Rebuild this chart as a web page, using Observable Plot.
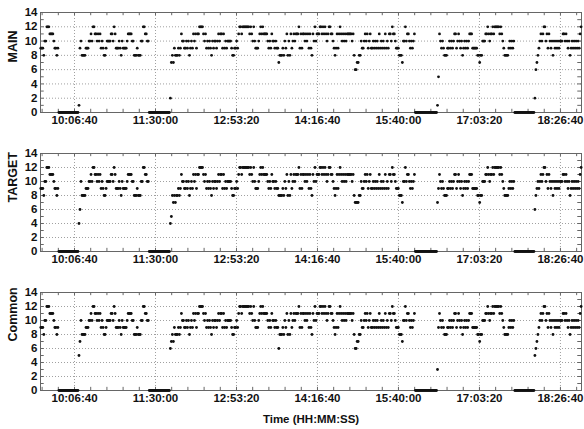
<!DOCTYPE html>
<html>
<head>
<meta charset="utf-8">
<script src="https://cdn.jsdelivr.net/npm/d3@7"></script>
<script src="https://cdn.jsdelivr.net/npm/@observablehq/plot@0.6"></script>
<style>
  html, body { margin: 0; padding: 0; background: #fff; }
  #chart svg { display: block; }
</style>
</head>
<body>
<div id="chart"></div>
<script>
// Sample clock: seconds since midnight of the first reading and the spacing between readings
const startSeconds = 34320;
const stepSeconds = 62;

// Readings of the MAIN channel
const mainValues = [
  9,9,9,8,10,10,12,12,12,11,
  11,11,11,10,9,9,8,9,
  0,0,0,0,0,0,0,0,0,0,0,0,0,0,0,0,0,0,0,0,
  1,9,10,8,8,8,8,9,9,9,10,10,
  11,10,12,12,11,11,10,11,10,11,
  9,10,9,8,8,9,10,10,10,10,
  11,11,10,12,11,9,9,9,10,9,
  8,10,9,9,9,9,10,11,11,11,
  11,10,10,8,8,8,9,8,8,8,
  10,10,12,12,11,11,10,10,
  0,0,0,0,0,0,0,0,0,0,0,0,0,0,0,0,0,0,0,0,0,
  2,7,8,7,9,8,8,8,9,8,9,
  11,10,10,9,9,10,9,10,8,9,
  10,9,11,10,11,9,11,11,12,12,
  12,12,11,10,11,9,10,9,10,9,
  8,10,9,10,10,9,10,11,10,11,
  11,9,11,9,10,9,10,10,10,10,
  9,8,8,9,9,10,9,11,12,12,
  11,12,12,12,12,12,12,12,11,12,
  11,10,12,10,9,9,9,10,11,12,
  11,12,11,11,11,11,10,9,10,9,
  11,10,10,9,10,9,9,7,8,8,
  8,9,8,10,9,11,8,10,8,11,
  9,10,11,10,11,11,11,12,9,11,
  9,11,11,10,11,10,11,9,11,9,
  8,11,10,12,10,11,11,11,12,12,
  11,12,11,12,11,10,11,12,12,11,
  11,10,9,8,9,11,9,11,12,11,
  10,11,10,11,10,11,11,11,11,11,
  10,11,8,6,6,7,7,8,8,10,
  9,9,10,11,10,11,9,10,11,9,
  9,10,9,10,9,10,9,11,9,10,
  9,10,9,11,9,10,9,11,11,10,
  12,11,11,10,9,9,9,8,8,8,
  7,10,10,12,10,11,11,10,9,10,9,10,11,
  0,0,0,0,0,0,0,0,0,0,0,0,0,0,0,0,0,0,0,0,0,0,
  1,5,11,10,9,10,9,8,8,8,9,9,10,9,10,
  9,10,11,11,9,10,11,10,9,10,
  8,9,10,9,10,9,10,11,11,11,
  9,9,9,9,9,8,8,7,8,8,
  10,10,10,11,11,12,11,10,11,11,
  12,11,12,12,12,12,12,11,12,11,
  10,9,8,8,8,8,9,10,9,10,9,10,
  0,0,0,0,0,0,0,0,0,0,0,0,0,0,0,0,0,0,0,0,
  2,6,7,8,9,10,11,10,
  11,12,12,10,11,9,11,10,9,10,
  8,10,9,10,9,10,9,10,10,10,
  11,11,10,11,10,9,10,8,9,10,
  9,10,9,10,9,10,9,11,12
];

// Readings of the TARGET channel
const targetValues = [
  9,9,9,8,10,10,12,12,12,11,
  11,11,11,10,9,9,8,9,
  0,0,0,0,0,0,0,0,0,0,0,0,0,0,0,0,0,0,0,0,
  4,6,10,8,8,8,8,9,9,9,10,10,
  11,10,12,12,11,11,10,11,10,11,
  9,10,9,8,8,9,10,10,10,10,
  11,11,10,12,11,9,9,9,10,9,
  8,10,9,9,9,9,10,11,11,11,
  11,10,10,8,8,8,9,8,8,8,
  10,10,12,12,11,11,10,10,
  0,0,0,0,0,0,0,0,0,0,0,0,0,0,0,0,0,0,0,0,0,
  4,5,8,7,8,7,8,8,9,8,9,
  11,10,10,9,9,10,9,10,8,9,
  10,9,11,10,11,9,11,11,12,12,
  12,12,11,10,11,9,10,9,10,9,
  8,10,9,10,10,9,10,11,10,11,
  11,9,11,9,10,9,10,10,10,10,
  9,8,8,9,9,10,9,11,12,12,
  11,12,12,12,12,12,12,12,11,12,
  11,10,12,10,9,9,9,10,11,12,
  11,12,11,11,11,11,10,9,10,9,
  11,10,10,9,10,9,9,8,8,8,
  8,9,8,10,9,11,8,10,8,11,
  9,10,11,10,11,11,11,12,9,11,
  9,11,11,10,11,10,11,9,11,9,
  8,11,10,12,10,11,11,11,12,12,
  11,12,11,12,11,10,11,12,12,11,
  11,10,9,8,9,11,9,11,12,11,
  10,11,10,11,10,11,11,11,11,11,
  10,11,8,7,7,7,7,8,8,10,
  9,9,10,11,10,11,9,10,11,9,
  9,10,9,10,9,10,9,11,9,10,
  9,10,9,11,9,10,9,11,11,10,
  12,11,11,10,9,9,9,8,8,8,
  7,10,10,12,10,11,11,10,9,10,9,10,11,
  0,0,0,0,0,0,0,0,0,0,0,0,0,0,0,0,0,0,0,0,0,0,
  7,9,11,10,9,10,9,8,8,8,9,9,10,9,10,
  9,10,11,11,9,10,11,10,9,10,
  8,9,10,9,10,9,10,11,11,11,
  9,9,9,9,9,8,8,7,8,8,
  10,10,10,11,11,12,11,10,11,11,
  12,11,12,12,12,12,12,11,12,11,
  10,9,8,8,8,8,9,10,9,10,9,10,
  0,0,0,0,0,0,0,0,0,0,0,0,0,0,0,0,0,0,0,0,
  6,8,9,10,9,10,11,10,
  11,12,12,10,11,9,11,10,9,10,
  8,10,9,10,9,10,9,10,10,10,
  11,11,10,11,10,9,10,8,9,10,
  9,10,9,10,9,10,9,11,12
];

// Readings accepted in common by both channels
const commonValues = [
  9,9,9,8,10,10,12,12,12,11,
  11,11,11,10,9,9,8,9,
  0,0,0,0,0,0,0,0,0,0,0,0,0,0,0,0,0,0,0,0,
  5,7,10,8,8,8,8,9,9,9,10,10,
  11,10,12,12,11,11,10,11,10,11,
  9,10,9,8,8,9,10,10,10,10,
  11,11,10,12,11,9,9,9,10,9,
  8,10,9,9,9,9,10,11,11,11,
  11,10,10,8,8,8,9,8,8,8,
  10,10,12,12,11,11,10,10,
  0,0,0,0,0,0,0,0,0,0,0,0,0,0,0,0,0,0,0,0,0,
  6,7,8,7,9,8,8,8,9,8,9,
  11,10,10,9,9,10,9,10,8,9,
  10,9,11,10,11,9,11,11,12,12,
  12,12,11,10,11,9,10,9,10,9,
  8,10,9,10,10,9,10,11,10,11,
  11,9,11,9,10,9,10,10,10,10,
  9,8,8,9,9,10,9,11,12,12,
  11,12,12,12,12,12,12,12,11,12,
  11,10,12,10,9,9,9,10,11,12,
  11,12,11,11,11,11,10,9,10,9,
  11,10,10,9,10,9,9,6,8,8,
  8,9,8,10,9,11,8,10,8,11,
  9,10,11,10,11,11,11,12,9,11,
  9,11,11,10,11,10,11,9,11,9,
  8,11,10,12,10,11,11,11,12,12,
  11,12,11,12,11,10,11,12,12,11,
  11,10,9,8,9,11,9,11,12,11,
  10,11,10,11,10,11,11,11,11,11,
  10,11,8,6,6,7,7,8,8,10,
  9,9,10,11,10,11,9,10,11,9,
  9,10,9,10,9,10,9,11,9,10,
  9,10,9,11,9,10,9,11,11,10,
  12,11,11,10,9,9,9,8,8,8,
  7,10,10,12,10,11,11,10,9,10,9,10,11,
  0,0,0,0,0,0,0,0,0,0,0,0,0,0,0,0,0,0,0,0,0,0,
  3,9,11,10,9,10,9,8,8,8,9,9,10,9,10,
  9,10,11,11,9,10,11,10,9,10,
  8,9,10,9,10,9,10,11,11,11,
  9,9,9,9,9,8,8,7,8,8,
  10,10,10,11,11,12,11,10,11,11,
  12,11,12,12,12,12,12,11,12,11,
  10,9,8,8,8,8,9,10,9,10,9,10,
  0,0,0,0,0,0,0,0,0,0,0,0,0,0,0,0,0,0,0,0,
  5,6,7,8,9,10,11,10,
  11,12,12,10,11,9,11,10,9,10,
  8,10,9,10,9,10,9,10,10,10,
  11,11,10,11,10,9,10,8,9,10,
  9,10,9,10,9,10,9,11,12
];

// Axis layout values (seconds since midnight / count levels)
const timeDomain = [34300, 67700];
const timeTicks = [36400, 41400, 46400, 51400, 56400, 61400, 66400];
const timeMinorTicks = d3.range(34400, 67700, 1000);
const countDomain = [0, 14];
const countTicks = [0, 2, 4, 6, 8, 10, 12, 14];
const countGrid = [2, 4, 6, 8, 10, 12];
const countMinorTicks = d3.range(0, 15, 1);

const panelLabels = ["MAIN", "TARGET", "Common"];
const panelSeries = [mainValues, targetValues, commonValues];

const hms = (s) => {
  const h = Math.floor(s / 3600), m = Math.floor((s % 3600) / 60), sec = Math.round(s % 60);
  return [h, m, sec].map((v) => String(v).padStart(2, "0")).join(":");
};

const gridStyle = { stroke: "#a0a0a0", strokeDasharray: "1,2", strokeWidth: 1 };
const inkColor = "#111";
const frameColor = "#666";

const layouts = [
  { height: 139, marginTop: 12, marginBottom: 27 },
  { height: 139, marginTop: 14, marginBottom: 27 },
  { height: 151, marginTop: 14, marginBottom: 39 }
];

const chart = document.getElementById("chart");

panelSeries.forEach((values, k) => {
  const data = values.map((v, i) => ({ t: startSeconds + i * stepSeconds, v }));
  const layout = layouts[k];
  const tickLenX = 0.45;   // in count units
  const tickLenY = 230;    // in seconds
  const marks = [
    Plot.ruleY(countGrid, gridStyle),
    Plot.ruleX(timeTicks, gridStyle),
    Plot.ruleX(timeMinorTicks, { y1: countDomain[0], y2: countDomain[0] + tickLenX, stroke: frameColor }),
    Plot.ruleX(timeMinorTicks, { y1: countDomain[1], y2: countDomain[1] - tickLenX, stroke: frameColor }),
    Plot.ruleY(countMinorTicks, { x1: timeDomain[0], x2: timeDomain[0] + tickLenY, stroke: frameColor }),
    Plot.ruleY(countMinorTicks, { x1: timeDomain[1], x2: timeDomain[1] - tickLenY, stroke: frameColor }),
    Plot.frame({ stroke: frameColor }),
    Plot.axisX({ ticks: timeTicks, tickFormat: hms, tickSize: 0, tickPadding: 3, label: null, fontSize: 11.5 }),
    Plot.axisY({ ticks: countTicks, tickSize: 0, tickPadding: 3, label: null, fontSize: 11.5 }),
    Plot.dot(data, { x: "t", y: "v", r: 1.4, fill: inkColor, stroke: "none" }),
    Plot.text([panelLabels[k]], { frameAnchor: "left", text: (d) => d, rotate: -90, dx: -28, fontSize: 12.5 })
  ];
  if (k === panelSeries.length - 1) {
    marks.push(Plot.text(["Time (HH:MM:SS)"], { frameAnchor: "bottom", text: (d) => d, dy: 32, fontSize: 11.5 }));
  }
  const svg = Plot.plot({
    width: 584,
    height: layout.height,
    marginLeft: 40,
    marginRight: 3,
    marginTop: layout.marginTop,
    marginBottom: layout.marginBottom,
    x: { domain: timeDomain },
    y: { domain: countDomain },
    style: {
      fontFamily: "'Liberation Sans', Arial, sans-serif",
      fontSize: "11px",
      fontWeight: "bold",
      color: inkColor,
      background: "#fff",
      overflow: "visible"
    },
    marks
  });
  chart.appendChild(svg);
});
</script>
</body>
</html>
